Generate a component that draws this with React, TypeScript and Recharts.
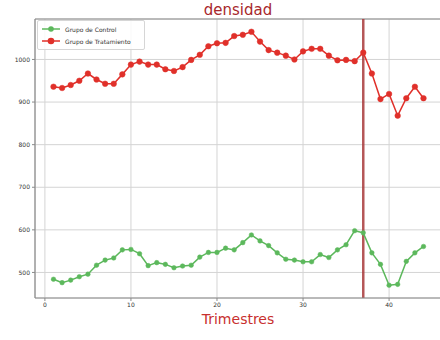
import React from 'react';
import {
  LineChart, Line, XAxis, YAxis, CartesianGrid, ReferenceLine,
} from 'recharts';

const quarters = [
  1, 2, 3, 4, 5, 6, 7, 8, 9, 10, 11, 12, 13, 14, 15, 16, 17, 18, 19, 20, 21, 22,
  23, 24, 25, 26, 27, 28, 29, 30, 31, 32, 33, 34, 35, 36, 37, 38, 39, 40, 41, 42, 43, 44,
];

const control = [
  484, 476, 482, 490, 496, 517, 529, 534, 553, 554,
  544, 516, 523, 519, 511, 515, 517, 536, 547, 547,
  557, 553, 570, 588, 574, 563, 546, 531, 529, 525,
  525, 542, 535, 553, 565, 598, 593, 546, 519, 470,
  472, 526, 546, 561,
];

const treatment = [
  936, 933, 940, 950, 967, 953, 943, 943, 965, 988,
  995, 988, 988, 977, 973, 982, 999, 1011, 1031, 1038,
  1039, 1055, 1058, 1065, 1042, 1022, 1016, 1009, 1000, 1019,
  1025, 1025, 1009, 998, 999, 996, 1016, 967, 907, 919,
  868, 909, 936, 909,
];

const xTicks = [0, 10, 20, 30, 40];
const yTicks = [500, 600, 700, 800, 900, 1000];
const interventionQuarter = 37;

const GREEN = '#5cb85c';
const RED = '#e0302a';
const FONT = '"DejaVu Sans", sans-serif';

const data = quarters.map((q, i) => ({ q, control: control[i], treatment: treatment[i] }));

const series = [
  { key: 'control', name: 'Grupo de Control', color: GREEN, r: 2.3 },
  { key: 'treatment', name: 'Grupo de Tratamiento', color: RED, r: 2.8 },
];

function LegendBox() {
  return (
    <div style={{
      position: 'absolute', left: 37, top: 20,
      border: '1px solid #d6d6d6', background: 'rgba(255,255,255,0.85)', borderRadius: 2,
      padding: '2px 6px 2px 4px', fontFamily: FONT, fontSize: 6, color: '#333', width: 96,
    }}>
      {series.map((s) => (
        <div key={s.key} style={{ display: 'flex', alignItems: 'center', height: 12 }}>
          <svg width={18} height={8} style={{ marginRight: 5 }}>
            <line x1={0} y1={4} x2={18} y2={4} stroke={s.color} strokeWidth={1.5} />
            <circle cx={9} cy={4} r={s.r + 0.5} fill={s.color} />
          </svg>
          <span>{s.name}</span>
        </div>
      ))}
    </div>
  );
}

export default function App() {
  const tick = { fontSize: 6, fill: '#333', fontFamily: FONT };
  return (
    <div style={{ position: 'absolute', left: 0, top: 0, width: 440, height: 340, overflow: 'hidden', background: '#fff' }}>
      <div style={{
        position: 'absolute', left: 0, width: 476, top: 2, textAlign: 'center',
        fontFamily: FONT, fontSize: 15, color: '#a8282c', lineHeight: '16px',
      }}>densidad</div>
      <LineChart width={450} height={340} data={data} margin={{ top: 19, right: 8, left: 8, bottom: 0 }}>
        <CartesianGrid stroke="#d4d4d4" strokeWidth={1} />
        <XAxis
          dataKey="q" type="number" domain={[-1.15, 46.15]} ticks={xTicks} allowDataOverflow
          height={42} tick={tick} tickSize={3} tickMargin={2}
          axisLine={{ stroke: '#8a8a8a', strokeWidth: 1.2 }} tickLine={{ stroke: '#8a8a8a' }}
        />
        <YAxis
          type="number" domain={[440, 1095]} ticks={yTicks} allowDataOverflow
          width={27} tick={tick} tickSize={3} tickMargin={2}
          axisLine={{ stroke: '#8a8a8a', strokeWidth: 1.2 }} tickLine={{ stroke: '#8a8a8a' }}
        />
        <ReferenceLine y={1095} stroke="#8a8a8a" strokeWidth={1.2} />
        <ReferenceLine x={interventionQuarter} stroke="#a8383a" strokeWidth={2.5} strokeOpacity={0.85} />
        {series.map((s) => (
          <Line
            key={s.key} dataKey={s.key} name={s.name} type="linear"
            stroke={s.color} strokeWidth={1.5}
            dot={{ r: s.r, fill: s.color, stroke: s.color, strokeWidth: 0.5 }}
            activeDot={false} isAnimationActive={false}
          />
        ))}
      </LineChart>
      <LegendBox />
      <div style={{
        position: 'absolute', left: 0, width: 476, top: 311, textAlign: 'center',
        fontFamily: FONT, fontSize: 14, color: '#c8302e', lineHeight: '16px',
      }}>Trimestres</div>
    </div>
  );
}
